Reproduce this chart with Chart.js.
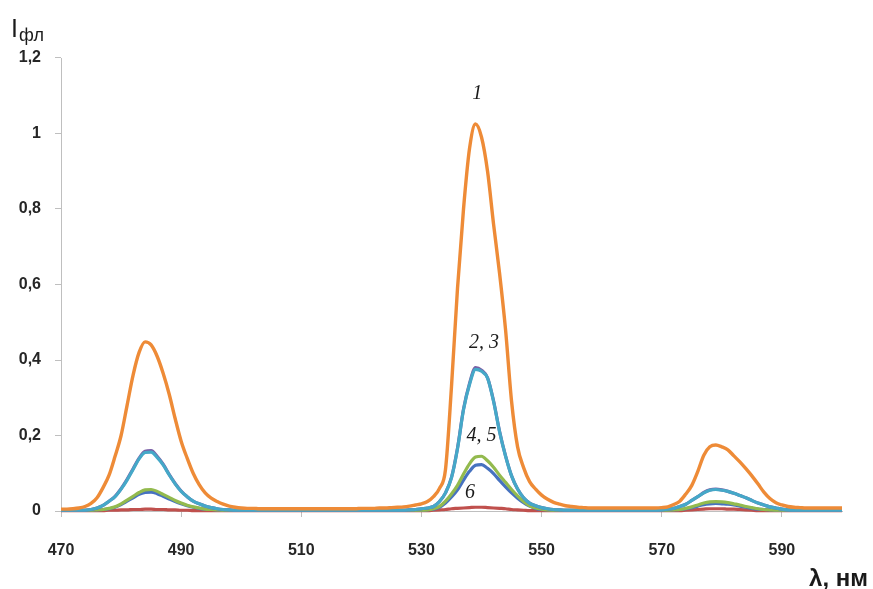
<!DOCTYPE html>
<html>
<head>
<meta charset="utf-8">
<title>Спектры флуоресценции</title>
<script src="https://cdn.jsdelivr.net/npm/chart.js@4.4.1/dist/chart.umd.min.js"></script>
<style>
  html, body { margin: 0; padding: 0; background: #ffffff; }
  #wrap { width: 873px; height: 589px; position: relative; }
  canvas { display: block; }
</style>
</head>
<body>
<div id="wrap"><canvas id="chart" width="873" height="589"></canvas></div>
<script>
// Wavelength grid: 470 … 600 nm, one sample per nm
const WL_START = 470;
const WL_END = 600;

// Spectrum 1 (fluorescence intensity, arb. units)
const series1 = [
  0.005, 0.005, 0.006, 0.008, 0.012, 0.020, 0.035, 0.062, 0.095, 0.145, // 470
  0.200, 0.280, 0.360, 0.420, 0.448, 0.440, 0.410, 0.365, 0.310, 0.245, // 480
  0.185, 0.140, 0.100, 0.070, 0.048, 0.034, 0.025, 0.018, 0.013, 0.010, // 490
  0.008, 0.007, 0.007, 0.006, 0.006, 0.006, 0.006, 0.006, 0.006, 0.006, // 500
  0.006, 0.006, 0.006, 0.006, 0.006, 0.006, 0.006, 0.006, 0.006, 0.006, // 510
  0.007, 0.007, 0.007, 0.008, 0.008, 0.009, 0.010, 0.011, 0.013, 0.016, // 520
  0.019, 0.025, 0.038, 0.060, 0.110, 0.330, 0.590, 0.800, 0.960, 1.025, // 530
  0.990, 0.900, 0.760, 0.630, 0.480, 0.290, 0.170, 0.115, 0.078, 0.058, // 540
  0.042, 0.031, 0.023, 0.018, 0.014, 0.012, 0.010, 0.009, 0.008, 0.008, // 550
  0.008, 0.008, 0.008, 0.008, 0.008, 0.008, 0.008, 0.008, 0.008, 0.008, // 560
  0.009, 0.011, 0.017, 0.026, 0.045, 0.068, 0.105, 0.148, 0.170, 0.175, // 570
  0.170, 0.162, 0.146, 0.130, 0.112, 0.093, 0.072, 0.050, 0.033, 0.022, // 580
  0.016, 0.012, 0.010, 0.009, 0.008, 0.008, 0.008, 0.008, 0.008, 0.008, // 590
  0.008                                                                  // 600
];

// Spectrum 2
const series2 = [
  0.002, 0.002, 0.002, 0.002, 0.002, 0.004, 0.008, 0.015, 0.026, 0.039,
  0.059, 0.084, 0.112, 0.140, 0.158, 0.160, 0.145, 0.124, 0.097, 0.073,
  0.053, 0.038, 0.026, 0.019, 0.013, 0.009, 0.006, 0.004, 0.003, 0.002,
  0.002, 0.002, 0.002, 0.002, 0.002, 0.002, 0.002, 0.002, 0.002, 0.002,
  0.002, 0.002, 0.002, 0.002, 0.002, 0.002, 0.002, 0.002, 0.002, 0.002,
  0.002, 0.002, 0.002, 0.002, 0.002, 0.002, 0.002, 0.002, 0.003, 0.004,
  0.006, 0.008, 0.012, 0.025, 0.048, 0.089, 0.167, 0.270, 0.338, 0.380,
  0.373, 0.353, 0.292, 0.211, 0.146, 0.093, 0.058, 0.035, 0.021, 0.014,
  0.009, 0.006, 0.004, 0.003, 0.002, 0.002, 0.002, 0.002, 0.002, 0.002,
  0.002, 0.002, 0.002, 0.002, 0.002, 0.002, 0.002, 0.002, 0.002, 0.002,
  0.003, 0.005, 0.007, 0.012, 0.018, 0.028, 0.038, 0.049, 0.056, 0.058,
  0.056, 0.052, 0.047, 0.041, 0.035, 0.028, 0.021, 0.016, 0.011, 0.008,
  0.005, 0.003, 0.002, 0.002, 0.002, 0.002, 0.002, 0.002, 0.002, 0.002,
  0.002
];

// Spectrum 3
const series3 = [
  0.002, 0.002, 0.002, 0.002, 0.002, 0.004, 0.008, 0.015, 0.026, 0.038,
  0.058, 0.082, 0.110, 0.138, 0.155, 0.156, 0.142, 0.122, 0.096, 0.072,
  0.052, 0.038, 0.026, 0.019, 0.013, 0.009, 0.006, 0.004, 0.003, 0.002,
  0.002, 0.002, 0.002, 0.002, 0.002, 0.002, 0.002, 0.002, 0.002, 0.002,
  0.002, 0.002, 0.002, 0.002, 0.002, 0.002, 0.002, 0.002, 0.002, 0.002,
  0.002, 0.002, 0.002, 0.002, 0.002, 0.002, 0.002, 0.002, 0.003, 0.004,
  0.006, 0.008, 0.012, 0.025, 0.048, 0.088, 0.165, 0.268, 0.335, 0.375,
  0.370, 0.352, 0.290, 0.210, 0.145, 0.093, 0.058, 0.035, 0.021, 0.014,
  0.009, 0.006, 0.004, 0.003, 0.002, 0.002, 0.002, 0.002, 0.002, 0.002,
  0.002, 0.002, 0.002, 0.002, 0.002, 0.002, 0.002, 0.002, 0.002, 0.002,
  0.003, 0.005, 0.007, 0.012, 0.018, 0.028, 0.038, 0.048, 0.055, 0.057,
  0.055, 0.052, 0.047, 0.041, 0.035, 0.028, 0.021, 0.016, 0.011, 0.008,
  0.005, 0.003, 0.002, 0.002, 0.002, 0.002, 0.002, 0.002, 0.002, 0.002,
  0.002
];

// Spectrum 4
const series4 = [
  0.002, 0.002, 0.002, 0.002, 0.002, 0.002, 0.003, 0.004, 0.007, 0.011,
  0.019, 0.029, 0.039, 0.049, 0.056, 0.057, 0.052, 0.044, 0.036, 0.028,
  0.021, 0.015, 0.011, 0.008, 0.005, 0.004, 0.003, 0.002, 0.002, 0.002,
  0.002, 0.002, 0.002, 0.002, 0.002, 0.002, 0.002, 0.002, 0.002, 0.002,
  0.002, 0.002, 0.002, 0.002, 0.002, 0.002, 0.002, 0.002, 0.002, 0.002,
  0.002, 0.002, 0.002, 0.002, 0.002, 0.002, 0.002, 0.002, 0.002, 0.002,
  0.002, 0.003, 0.006, 0.012, 0.026, 0.045, 0.068, 0.098, 0.125, 0.143,
  0.145, 0.133, 0.116, 0.095, 0.076, 0.057, 0.040, 0.025, 0.014, 0.008,
  0.005, 0.003, 0.002, 0.002, 0.002, 0.002, 0.002, 0.002, 0.002, 0.002,
  0.002, 0.002, 0.002, 0.002, 0.002, 0.002, 0.002, 0.002, 0.002, 0.002,
  0.002, 0.002, 0.003, 0.004, 0.007, 0.011, 0.016, 0.021, 0.024, 0.025,
  0.024, 0.022, 0.019, 0.016, 0.012, 0.009, 0.006, 0.004, 0.003, 0.002,
  0.002, 0.002, 0.002, 0.002, 0.002, 0.002, 0.002, 0.002, 0.002, 0.002,
  0.002
];

// Spectrum 5
const series5 = [
  0.002, 0.002, 0.002, 0.002, 0.002, 0.002, 0.003, 0.004, 0.006, 0.010,
  0.017, 0.026, 0.035, 0.044, 0.049, 0.050, 0.046, 0.039, 0.032, 0.025,
  0.019, 0.014, 0.010, 0.007, 0.005, 0.004, 0.003, 0.002, 0.002, 0.002,
  0.002, 0.002, 0.002, 0.002, 0.002, 0.002, 0.002, 0.002, 0.002, 0.002,
  0.002, 0.002, 0.002, 0.002, 0.002, 0.002, 0.002, 0.002, 0.002, 0.002,
  0.002, 0.002, 0.002, 0.002, 0.002, 0.002, 0.002, 0.002, 0.002, 0.002,
  0.002, 0.003, 0.005, 0.010, 0.021, 0.037, 0.056, 0.082, 0.105, 0.121,
  0.123, 0.113, 0.099, 0.081, 0.064, 0.048, 0.034, 0.022, 0.013, 0.007,
  0.004, 0.003, 0.002, 0.002, 0.002, 0.002, 0.002, 0.002, 0.002, 0.002,
  0.002, 0.002, 0.002, 0.002, 0.002, 0.002, 0.002, 0.002, 0.002, 0.002,
  0.002, 0.002, 0.003, 0.004, 0.006, 0.009, 0.013, 0.017, 0.019, 0.020,
  0.019, 0.018, 0.016, 0.013, 0.010, 0.007, 0.005, 0.004, 0.003, 0.002,
  0.002, 0.002, 0.002, 0.002, 0.002, 0.002, 0.002, 0.002, 0.002, 0.002,
  0.002
];

// Spectrum 6
const series6 = [
  0.001, 0.001, 0.001, 0.001, 0.001, 0.001, 0.001, 0.001, 0.002, 0.002,
  0.003, 0.003, 0.004, 0.004, 0.005, 0.005, 0.004, 0.004, 0.003, 0.003,
  0.002, 0.002, 0.001, 0.001, 0.001, 0.001, 0.001, 0.001, 0.001, 0.001,
  0.001, 0.001, 0.001, 0.001, 0.001, 0.001, 0.001, 0.001, 0.001, 0.001,
  0.001, 0.001, 0.001, 0.001, 0.001, 0.001, 0.001, 0.001, 0.001, 0.001,
  0.001, 0.001, 0.001, 0.001, 0.001, 0.001, 0.001, 0.001, 0.001, 0.001,
  0.001, 0.001, 0.002, 0.003, 0.004, 0.006, 0.007, 0.008, 0.009, 0.010,
  0.010, 0.009, 0.008, 0.007, 0.006, 0.004, 0.003, 0.002, 0.001, 0.001,
  0.001, 0.001, 0.001, 0.001, 0.001, 0.001, 0.001, 0.001, 0.001, 0.001,
  0.001, 0.001, 0.001, 0.001, 0.001, 0.001, 0.001, 0.001, 0.001, 0.001,
  0.001, 0.001, 0.001, 0.001, 0.002, 0.003, 0.004, 0.005, 0.006, 0.006,
  0.006, 0.005, 0.005, 0.004, 0.003, 0.002, 0.001, 0.001, 0.001, 0.001,
  0.001, 0.001, 0.001, 0.001, 0.001, 0.001, 0.001, 0.001, 0.001, 0.001,
  0.001
];

// Axis ticks
const xTickValues = [470, 490, 510, 530, 550, 570, 590];
const yTickLabels = ['0', '0,2', '0,4', '0,6', '0,8', '1', '1,2'];

// Curve numbers placed next to the peaks: [text, wavelength, intensity]
const curveLabels = [
  ['1', 539.3, 1.105],
  ['2, 3', 540.4, 0.445],
  ['4, 5', 540.0, 0.200],
  ['6', 538.1, 0.048]
];

const toPoints = arr => arr.map((v, i) => ({ x: WL_START + i, y: v }));

const seriesStyle = [
  { label: '1', data: series1, color: '#EE8B37', order: 0, width: 3.4 },
  { label: '2', data: series2, color: '#7A5FA6', order: 2, width: 3.2 },
  { label: '3', data: series3, color: '#45A8C8', order: 1, width: 3.2 },
  { label: '4', data: series4, color: '#93BA4E', order: 3, width: 3.2 },
  { label: '5', data: series5, color: '#4672C0', order: 4, width: 3.2 },
  { label: '6', data: series6, color: '#C0504D', order: 5, width: 3.2 }
];

const axisGray = '#BFBFBF';
const tickFont = { family: "'Liberation Sans Narrow', 'Liberation Sans', Arial, sans-serif", size: 16, weight: 'bold' };

const textPlugin = {
  id: 'chartTexts',
  afterDatasetsDraw(chart) {
    const { ctx, scales } = chart;
    ctx.save();
    // curve numbers
    ctx.fillStyle = '#1a1a1a';
    ctx.font = "italic 20px 'Liberation Serif', 'Times New Roman', serif";
    ctx.textAlign = 'center';
    ctx.textBaseline = 'middle';
    curveLabels.forEach(([t, x, y]) => {
      ctx.fillText(t, scales.x.getPixelForValue(x), scales.y.getPixelForValue(y));
    });
    // y-axis title: I with subscript "фл"
    ctx.textAlign = 'left';
    ctx.textBaseline = 'alphabetic';
    ctx.font = "25px 'Liberation Sans', Arial, sans-serif";
    ctx.fillText('I', 11, 37);
    ctx.font = "18px 'Liberation Sans', Arial, sans-serif";
    ctx.fillText('фл', 19, 41);
    // x-axis title
    ctx.textAlign = 'right';
    ctx.font = "bold 24px 'Liberation Sans', Arial, sans-serif";
    ctx.fillText('λ, нм', 868, 586);
    ctx.restore();
  }
};

new Chart(document.getElementById('chart'), {
  type: 'line',
  data: {
    datasets: seriesStyle.map(s => ({
      label: s.label,
      data: toPoints(s.data),
      borderColor: s.color,
      backgroundColor: s.color,
      borderWidth: s.width,
      pointRadius: 0,
      fill: false,
      cubicInterpolationMode: 'monotone',
      order: s.order,
      clip: 6
    }))
  },
  options: {
    responsive: false,
    animation: false,
    events: [],
    layout: { padding: { top: 58, right: 31, left: 0, bottom: 0 } },
    plugins: { legend: { display: false }, tooltip: { enabled: false } },
    scales: {
      x: {
        type: 'linear',
        min: WL_START,
        max: WL_END,
        afterBuildTicks(scale) {
          scale.ticks = xTickValues.map(v => ({ value: v }));
        },
        afterFit(scale) { scale.height = 78; },
        border: { display: true, color: axisGray, width: 1 },
        grid: { display: true, drawOnChartArea: false, drawTicks: true, tickLength: 6, color: axisGray },
        ticks: {
          color: '#262626',
          font: tickFont,
          padding: 24,
          maxRotation: 0,
          autoSkip: false,
          callback: v => String(v)
        }
      },
      y: {
        type: 'linear',
        min: 0,
        max: 1.2,
        afterBuildTicks(scale) {
          scale.ticks = yTickLabels.map((_, i) => ({ value: i * 0.2 }));
        },
        afterFit(scale) { scale.width = 61; },
        border: { display: true, color: axisGray, width: 1 },
        grid: { display: true, drawOnChartArea: false, drawTicks: true, tickLength: 6, color: axisGray },
        ticks: {
          color: '#262626',
          font: tickFont,
          padding: 14,
          autoSkip: false,
          callback: (v, i) => yTickLabels[i]
        }
      }
    }
  },
  plugins: [textPlugin]
});
</script>
</body>
</html>
